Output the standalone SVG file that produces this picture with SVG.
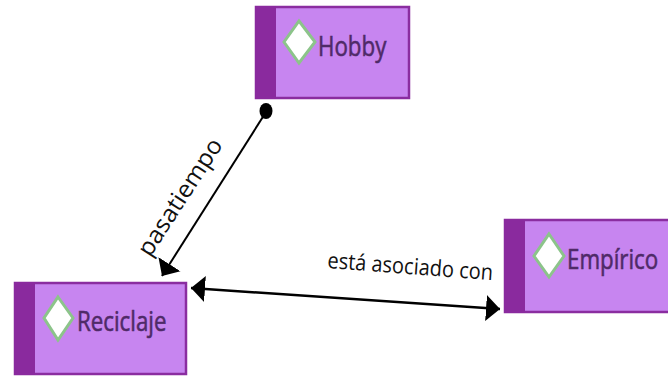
<svg xmlns="http://www.w3.org/2000/svg" width="668" height="376" viewBox="0 0 668 376">
<style>
.body{fill:#c785f0;stroke:#8a2da0;stroke-width:2.5}
.band{fill:#8a2a9e}
.dia{fill:#fff;stroke:#8cc48a;stroke-width:3}
.lab{font-family:"Open Sans","Noto Sans",sans-serif;font-size:24px;fill:#4f2a68;stroke:#4f2a68;stroke-width:0.5}
.conn{font-family:"Open Sans","Noto Sans",sans-serif;fill:#111}
.line{stroke:#000;fill:none}
</style>
<defs>
<marker id="tri" markerUnits="userSpaceOnUse" markerWidth="16" markerHeight="28" refX="14" refY="13" orient="auto-start-reverse" viewBox="0 0 16 26"><path d="M0 0L14 13L0 26Z" fill="#000"/></marker>
</defs>
<rect width="668" height="376" fill="#fff"/>
<g id="connectors">
<path class="line" stroke-width="2" d="M266 112L162 276" marker-end="url(#tri)"/>
<ellipse cx="266" cy="111" rx="6.5" ry="8" fill="#000"/>
<path class="line" stroke-width="2.5" d="M191 288L500 309" marker-start="url(#tri)" marker-end="url(#tri)"/>
<text class="conn" font-size="24" transform="translate(150 258) rotate(-57) scale(1.02 1)">pasatiempo</text>
<text class="conn" font-size="20" transform="translate(327 268) rotate(4.2) scale(1 1.12)">está asociado con</text>
</g>
<g id="hobby">
<rect class="body" x="256" y="7" width="153" height="91"/>
<rect class="band" x="255" y="6" width="21" height="93"/>
<path class="dia" d="M299 21L315 42L299 63L284 42Z"/>
<text class="lab" transform="translate(318 56) scale(0.93 1.15)">Hobby</text>
</g>
<g id="reciclaje">
<rect class="body" x="15" y="283" width="171" height="91"/>
<rect class="band" x="14" y="282" width="21" height="93"/>
<path class="dia" d="M58 297L73 318L58 340L44 318Z"/>
<text class="lab" transform="translate(77 331) scale(0.93 1.15)">Reciclaje</text>
</g>
<g id="empirico">
<rect class="body" x="505" y="220" width="170" height="92"/>
<rect class="band" x="504" y="219" width="21" height="94"/>
<path class="dia" d="M549 234L564 256L549 277L534 256Z"/>
<text class="lab" transform="translate(567 269) scale(0.93 1.15)">Empírico</text>
</g>
</svg>
